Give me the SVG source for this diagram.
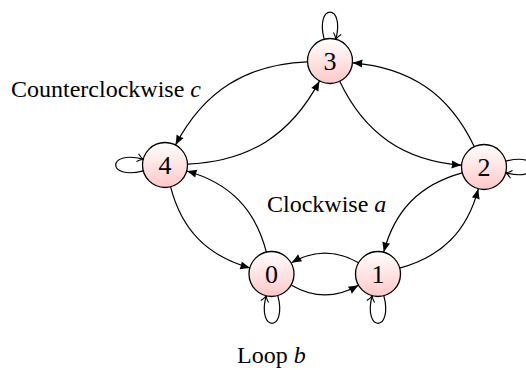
<svg xmlns="http://www.w3.org/2000/svg" width="526" height="370" viewBox="0 0 526 370">
<defs>
<linearGradient id="nodefill" x1="0" y1="0" x2="0" y2="1">
<stop offset="0" stop-color="#ffffff"/>
<stop offset="1" stop-color="#ffc8c8"/>
</linearGradient>
<marker id="tri" markerUnits="userSpaceOnUse" markerWidth="12" markerHeight="9" refX="10" refY="4" orient="auto" overflow="visible">
<path d="M0,0 Q5,2.2 10,4 Q5,5.8 0,8 Q1,4 0,0 z" fill="#000"/>
</marker>
<marker id="vee" markerUnits="userSpaceOnUse" markerWidth="8" markerHeight="10" refX="6" refY="4" orient="auto" overflow="visible">
<path d="M0,0 Q3,3 6,4 Q3,5 0,8" fill="none" stroke="#000" stroke-width="1.1"/>
</marker>
</defs>
<style>
.node circle{fill:url(#nodefill);stroke:#000;stroke-width:1.3}
.node text{font-family:"Liberation Serif","Times New Roman",Tinos,"DejaVu Serif",serif;font-size:26px;text-anchor:middle;fill:#000}
.edge{fill:none;stroke:#000;stroke-width:1.2;marker-end:url(#tri)}
.loop{fill:none;stroke:#000;stroke-width:1.2;marker-end:url(#vee)}
.lbl{font-family:"Liberation Serif","Times New Roman",Tinos,"DejaVu Serif",serif;font-size:24px;fill:#000}
.lbl tspan.m{font-style:italic}
</style>
<g id="connectors">
<path class="edge" d="M339.7,81.3 C364.6,133.7 403.8,160.6 461.6,165.2"/>
<path class="edge" d="M474.3,146.7 C449.4,94.3 410.2,67.4 352.4,62.8"/>
<path class="edge" d="M462.3,172.9 C420.1,184.4 394.8,209.9 383.7,252.2"/>
<path class="edge" d="M399.7,268.1 C441.9,256.6 467.2,231.1 478.3,188.8"/>
<path class="edge" d="M358.5,262.75 C335.8,249.6 314.2,249.6 291.5,262.75"/>
<path class="edge" d="M291.5,285.25 C314.2,298.4 335.8,298.4 358.5,285.25"/>
<path class="edge" d="M266.4,252.2 C255.3,209.1 229.6,182.9 186.7,171"/>
<path class="edge" d="M170.6,186.8 C181.7,229.9 207.4,256.1 250.3,268"/>
<path class="edge" d="M187.5,164.1 C248.6,161.7 291,135 319.5,80.9"/>
<path class="edge" d="M307.5,61.9 C246.4,64.3 204,91 175.5,145.1"/>
<path class="loop" d="M324.2,39.3 C314.6,3 345.4,3 335.8,39.3"/>
<path class="loop" d="M143.3,170.8 C106.5,180.6 106.5,149.4 143.3,159.2"/>
<path class="loop" d="M505.7,161.2 C542.5,151.4 542.5,182.6 505.7,172.8"/>
<path class="loop" d="M277.8,295.7 C287.6,332.5 256.4,332.5 266.2,295.7"/>
<path class="loop" d="M383.8,295.7 C393.6,332.5 362.4,332.5 372.2,295.7"/>
</g>
<g id="node3" class="node"><circle cx="330" cy="61" r="22.5"/><text x="330" y="70">3</text></g>
<g id="node4" class="node"><circle cx="165" cy="165" r="22.5"/><text x="165" y="174">4</text></g>
<g id="node2" class="node"><circle cx="484" cy="167" r="22.5"/><text x="484" y="176">2</text></g>
<g id="node0" class="node"><circle cx="271.5" cy="274" r="22.5"/><text x="271.5" y="283">0</text></g>
<g id="node1" class="node"><circle cx="378" cy="274" r="22.5"/><text x="378" y="283">1</text></g>
<text class="lbl" x="11" y="97">Counterclockwise <tspan class="m">c</tspan></text>
<text class="lbl" x="267" y="212">Clockwise <tspan class="m">a</tspan></text>
<text class="lbl" x="237" y="363">Loop <tspan class="m">b</tspan></text>
</svg>
